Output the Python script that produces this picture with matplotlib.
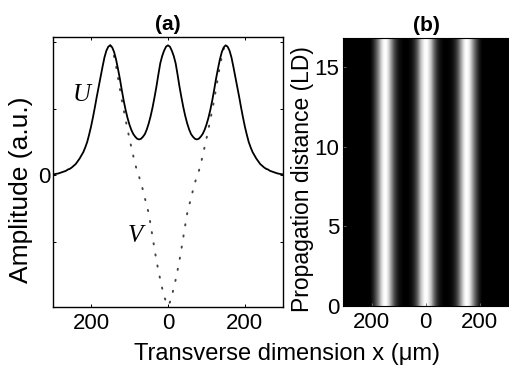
import numpy as np
import matplotlib
matplotlib.use("Agg")
import matplotlib.pyplot as plt

# ---- data ----
x_half = list(range(0, 305, 5))
u_half = [1.95, 1.93, 1.87, 1.79, 1.68, 1.51, 1.33, 1.17, 1.02, 0.89, 0.78, 0.69,
          0.62, 0.58, 0.55, 0.54, 0.55, 0.58, 0.62, 0.68, 0.76, 0.86, 0.98, 1.12,
          1.28, 1.45, 1.60, 1.74, 1.85, 1.92, 1.95, 1.93, 1.87, 1.77, 1.63, 1.48,
          1.33, 1.18, 1.02, 0.87, 0.73, 0.61, 0.50, 0.42, 0.35, 0.30, 0.25, 0.21,
          0.17, 0.145, 0.12, 0.10, 0.09, 0.07, 0.06, 0.05, 0.04, 0.03, 0.025,
          0.02, 0.015]
v_half = [-1.95, -1.90, -1.80, -1.69, -1.56, -1.42, -1.27, -1.10, -0.92, -0.74,
          -0.57, -0.45, -0.34, -0.22, -0.11, -0.02, 0.06, 0.17, 0.29, 0.42, 0.55,
          0.69, 0.83, 0.98, 1.13, 1.30, 1.47, 1.64, 1.78, 1.90, 1.95]
z_range = [0, 17]
x_ticks = [-200, 0, 200]
x_ticklabels = ["200", "0", "200"]
z_ticks = [0, 5, 10, 15]

x = np.array([-v for v in x_half[:0:-1]] + x_half, dtype=float)
U = np.array(u_half[:0:-1] + u_half)
nv = len(v_half)
xv = np.array([-v for v in x_half[nv - 1:0:-1]] + x_half[:nv], dtype=float)
V = np.array(v_half[:0:-1] + v_half)

plt.rcParams['font.family'] = ['Liberation Sans', 'DejaVu Sans']

fig = plt.figure(figsize=(5.09, 3.69), dpi=100)
W, H = 509, 369

def box(l, t, r, b):
    return [l / W, 1 - b / H, (r - l) / W, (b - t) / H]

serif = ['Liberation Serif', 'DejaVu Serif']

# ---- panel (a) ----
ax1 = fig.add_axes(box(53.3, 37.3, 283, 307))
ax1.plot(xv, V, color='#444444', lw=1.4, linestyle=(0, (0.6, 5.2)),
         dash_capstyle='round')
ax1.plot(x, U, color='black', lw=1.3)
ax1.set_xlim(-298, 299)
ax1.set_ylim(-1.97, 2.07)
ax1.set_xticks(x_ticks)
ax1.set_xticklabels(x_ticklabels)
ax1.set_yticks([-1, 0, 1, 2])
ax1.set_yticklabels(["", "0", "", ""])
ax1.tick_params(direction='in', length=2.5, width=0.7, labelsize=16, pad=4,
                top=True, right=True)
ax1.tick_params(axis='y', pad=2)
for s in ax1.spines.values():
    s.set_linewidth(1.0)
ax1.set_title("(a)", fontsize=15, fontweight='bold', pad=5)
ax1.text(-225, 1.2, "U", fontsize=18, style='italic', family=serif,
         ha='center', va='center')
ax1.text(-85, -0.9, "V", fontsize=18, style='italic', family=serif,
         ha='center', va='center')

# ---- panel (b) ----
ax2 = fig.add_axes(box(343.3, 37.7, 509, 306))
ax2.set_facecolor('black')
I = U ** 2
img = np.tile(I, (2, 1))
ax2.imshow(img, cmap='gray', vmin=0.3, vmax=I.max(), aspect='auto',
           origin='lower', interpolation='bilinear',
           extent=(x[0] - 2.5, x[-1] + 2.5, z_range[0], z_range[1]))
ax2.set_xlim(-306, 309)
ax2.set_ylim(0, 16.84)
ax2.set_xticks(x_ticks)
ax2.set_xticklabels(x_ticklabels)
ax2.set_yticks(z_ticks)
ax2.tick_params(direction='in', length=2.5, width=0.7, labelsize=16, pad=4,
                color='#666666')
ax2.tick_params(axis='y', pad=3)
ax2.set_title("(b)", fontsize=15, fontweight='bold', pad=5)

fig.text(21 / W, 1 - 190 / H, "Amplitude (a.u.)", fontsize=19,
         rotation=90, ha='center', va='center')
fig.text(302 / W, 1 - 179 / H, "Propagation distance (LD)", fontsize=16.5,
         rotation=90, ha='center', va='center')
fig.text(286.5 / W, 1 - 354 / H, "Transverse dimension x (\u03bcm)",
         fontsize=17, ha='center', va='center')

fig.savefig("out.png", dpi=100)
